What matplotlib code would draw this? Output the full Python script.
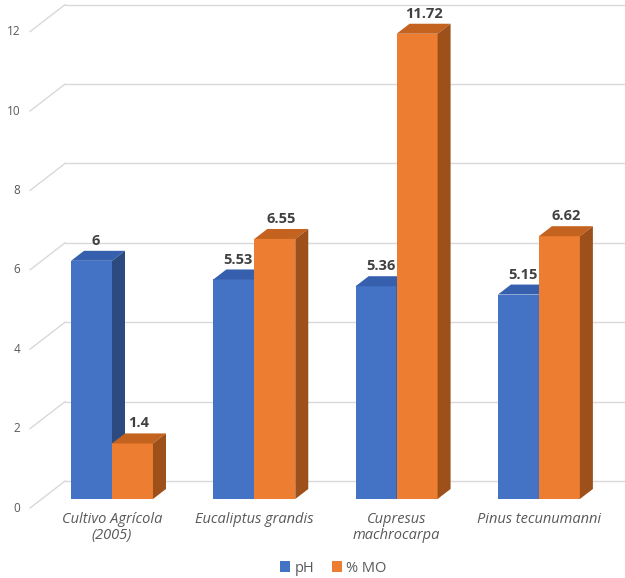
import matplotlib
matplotlib.use("Agg")
import matplotlib.pyplot as plt
from matplotlib.patches import Polygon, Rectangle
import numpy as np

categories = ["Cultivo Agrícola\n(2005)", "Eucaliptus grandis", "Cupresus\nmachrocarpa", "Pinus tecunumanni"]
ph_values = [6, 5.53, 5.36, 5.15]
mo_values = [1.4, 6.55, 11.72, 6.62]
ph_labels = ["6", "5.53", "5.36", "5.15"]
mo_labels = ["1.4", "6.55", "11.72", "6.62"]
series_names = ["pH", "% MO"]
yticks = [0, 2, 4, 6, 8, 10, 12]

plt.rcParams['font.family'] = ['Open Sans', 'DejaVu Sans']

fig = plt.figure(figsize=(6.25, 5.78), dpi=100)
ax = fig.add_axes([0, 0, 1, 1])
ax.axis('off')
ax.set_xlim(-0.787, 3.605)
ax.set_ylim(-1.99, 12.57)

# 3D geometry (data units)
bw = 0.288
dx, dy = 0.0914, 0.252
wall_dy = 0.453
wall_x0 = -0.330
lab_dy = -0.227
diag_x0 = -0.576
grid_col = '#D9D9D9'
text_col = '#595959'

# gridlines on back wall + diagonal floor lines
for t in yticks:
    ax.plot([diag_x0, wall_x0], [t + lab_dy, t + wall_dy], color=grid_col, lw=1, zorder=1)
    ax.plot([wall_x0, 3.605], [t + wall_dy, t + wall_dy], color=grid_col, lw=1, zorder=1)
    ax.text(-0.646, t + lab_dy, str(t), ha='right', va='center', fontsize=8.5, color=text_col)

colors = {
    0: ('#4472C4', '#3660AD', '#2C4A80'),
    1: ('#ED7D31', '#C4621F', '#9E501B'),
}

def draw_bar(x0, v, cols, z):
    front, top, side = cols
    ax.add_patch(Rectangle((x0, 0), bw, v, facecolor=front, edgecolor='none', zorder=z))
    ax.add_patch(Polygon([(x0, v), (x0 + bw, v), (x0 + bw + dx, v + dy), (x0 + dx, v + dy)],
                         closed=True, facecolor=top, edgecolor='none', zorder=z))
    ax.add_patch(Polygon([(x0 + bw, 0), (x0 + bw + dx, dy), (x0 + bw + dx, v + dy), (x0 + bw, v)],
                         closed=True, facecolor=side, edgecolor='none', zorder=z))

for i in range(len(categories)):
    draw_bar(i - bw, ph_values[i], colors[0], 2 + 2 * i)
    draw_bar(i, mo_values[i], colors[1], 3 + 2 * i)
    ax.text(i - bw / 2 + dx / 3, ph_values[i] + dy + 0.25, ph_labels[i], ha='center', va='center',
            fontsize=10.5, fontweight='bold', color='#404040', zorder=20)
    ax.text(i + bw / 2 + dx / 2, mo_values[i] + dy + 0.25, mo_labels[i], ha='center', va='center',
            fontsize=10.5, fontweight='bold', color='#404040', zorder=20)
    ax.text(i, -0.32, categories[i], ha='center', va='top', fontsize=10.5, style='italic',
            color=text_col, linespacing=1.1)

handles = [Rectangle((0, 0), 1, 1, facecolor=colors[k][0]) for k in range(2)]
leg = fig.legend(handles, series_names, loc='center', bbox_to_anchor=(0.533, 0.017), ncol=2,
                 frameon=False, fontsize=10.5, handlelength=0.7, handleheight=0.7,
                 handletextpad=0.3, columnspacing=1.2)
for t in leg.get_texts():
    t.set_color(text_col)

fig.savefig("out.png", dpi=100)
